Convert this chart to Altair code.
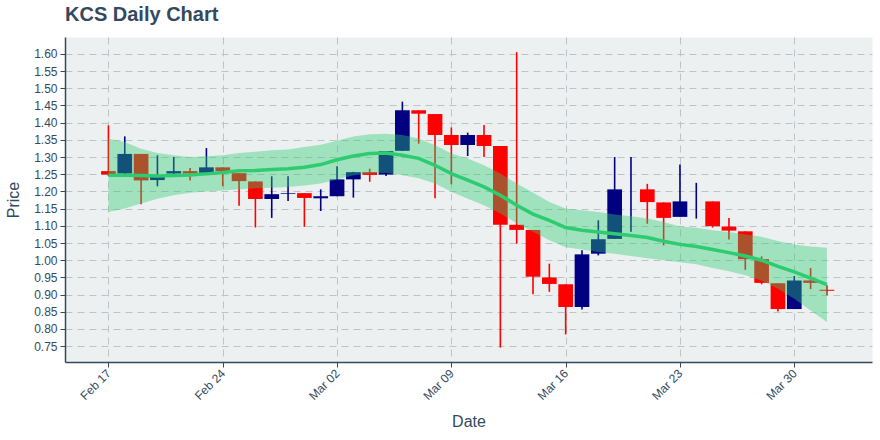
import altair as alt
import pandas as pd

dates = pd.date_range("2020-02-17", periods=45, freq="D").strftime("%Y-%m-%dT00:00:00Z").tolist()

opens = [1.259, 1.252, 1.309, 1.233, 1.252, 1.259, 1.254, 1.270, 1.253, 1.229,
         1.178, 1.193, 1.195, 1.180, 1.186, 1.235, 1.256, 1.249, 1.318, 1.436,
         1.425, 1.364, 1.335, 1.364, 1.332, 1.103, 1.088, 0.950, 0.930, 0.864,
         1.019, 1.062, 1.190, 1.206, 1.168, 1.126, 1.170, 1.171, 1.098, 1.084,
         1.003, 0.933, 0.858, 0.941, 0.914]
highs = [1.392, 1.360, 1.309, 1.305, 1.300, 1.268, 1.326, 1.270, 1.253, 1.229,
         1.244, 1.244, 1.195, 1.206, 1.273, 1.257, 1.266, 1.317, 1.461, 1.436,
         1.425, 1.386, 1.371, 1.393, 1.332, 1.605, 1.088, 0.990, 0.930, 1.029,
         1.116, 1.300, 1.300, 1.222, 1.168, 1.278, 1.225, 1.171, 1.123, 1.084,
         1.011, 0.933, 0.954, 0.977, 0.927]
lows = [1.245, 1.250, 1.163, 1.215, 1.249, 1.232, 1.252, 1.215, 1.158, 1.095,
        1.123, 1.172, 1.097, 1.143, 1.186, 1.182, 1.228, 1.245, 1.318, 1.339,
        1.180, 1.221, 1.303, 1.300, 0.746, 1.048, 0.901, 0.908, 0.784, 0.857,
        1.014, 1.062, 1.083, 1.106, 1.043, 1.126, 1.121, 1.095, 1.060, 0.972,
        0.930, 0.851, 0.858, 0.916, 0.898]
closes = [1.249, 1.309, 1.232, 1.242, 1.259, 1.252, 1.270, 1.259, 1.230, 1.178,
          1.192, 1.195, 1.181, 1.186, 1.235, 1.256, 1.248, 1.317, 1.436, 1.426,
          1.364, 1.335, 1.364, 1.332, 1.103, 1.088, 0.952, 0.931, 0.864, 1.017,
          1.061, 1.206, 1.190, 1.169, 1.123, 1.171, 1.170, 1.099, 1.086, 1.003,
          0.934, 0.858, 0.941, 0.934, 0.911]

mean = [1.247, 1.247, 1.246, 1.245, 1.246, 1.248, 1.251, 1.255, 1.260, 1.261,
        1.264, 1.266, 1.270, 1.278, 1.292, 1.303, 1.310, 1.312, 1.305, 1.296,
        1.276, 1.252, 1.233, 1.213, 1.189, 1.160, 1.134, 1.116, 1.095, 1.087,
        1.082, 1.077, 1.072, 1.066, 1.055, 1.046, 1.040, 1.031, 1.022, 1.012,
        1.000, 0.982, 0.966, 0.948, 0.929]
upper = [1.353, 1.344, 1.324, 1.312, 1.305, 1.300, 1.302, 1.305, 1.312, 1.315,
         1.320, 1.322, 1.329, 1.336, 1.347, 1.360, 1.366, 1.368, 1.364, 1.354,
         1.334, 1.310, 1.296, 1.276, 1.252, 1.223, 1.197, 1.169, 1.150, 1.145,
         1.140, 1.133, 1.128, 1.121, 1.111, 1.098, 1.094, 1.087, 1.082, 1.075,
         1.068, 1.056, 1.046, 1.040, 1.036]
lower = [1.140, 1.150, 1.165, 1.179, 1.189, 1.196, 1.200, 1.203, 1.206, 1.209,
         1.211, 1.213, 1.217, 1.223, 1.235, 1.247, 1.252, 1.254, 1.247, 1.238,
         1.223, 1.199, 1.179, 1.160, 1.136, 1.107, 1.083, 1.058, 1.038, 1.031,
         1.024, 1.019, 1.012, 1.006, 1.000, 0.994, 0.988, 0.977, 0.968, 0.956,
         0.941, 0.917, 0.888, 0.854, 0.820]

tick_dates = [(2, 17), (2, 24), (3, 2), (3, 9), (3, 16), (3, 23), (3, 30)]
y_ticks = [0.75, 0.80, 0.85, 0.90, 0.95, 1.00, 1.05, 1.10, 1.15, 1.20,
           1.25, 1.30, 1.35, 1.40, 1.45, 1.50, 1.55, 1.60]

df = pd.DataFrame({"date": dates, "open": opens, "high": highs, "low": lows,
                   "close": closes, "mean": mean, "upper": upper, "lower": lower})
df["dir"] = ["up" if c >= o else "down" for o, c in zip(opens, closes)]

TXT = "#34495e"
FONT = "Liberation Sans"

xscale = alt.Scale(type="utc", padding=0,
                   domain=[alt.DateTime(year=2020, month=2, date=14, hours=8, minutes=10, utc=True),
                           alt.DateTime(year=2020, month=4, date=3, hours=18, minutes=14, utc=True)])
xaxis = alt.Axis(values=[alt.DateTime(year=2020, month=m, date=d, utc=True) for m, d in tick_dates],
                 format="%b %d", labelAngle=-45, labelAlign="right", labelBaseline="middle",
                 labelFontSize=12, labelColor=TXT, labelFont=FONT, labelPadding=4,
                 labelOverlap=False,
                 tickColor=TXT, tickSize=5, domainColor=TXT, domainWidth=1.5,
                 gridColor="#bdc3c7", gridDash=[7, 5], gridWidth=1,
                 title="Date", titleFontSize=16, titleFont=FONT, titleFontWeight="normal",
                 titleColor=TXT, titlePadding=12)
yscale = alt.Scale(domain=[0.704, 1.649], nice=False, zero=False)
yaxis = alt.Axis(values=y_ticks, format=".2f", labelFontSize=12, labelColor=TXT, labelFont=FONT,
                 labelPadding=3, labelOverlap=False, labelFlush=False, tickCount=18,
                 tickColor=TXT, tickSize=5, domainColor=TXT, domainWidth=1.5,
                 gridColor="#bdc3c7", gridDash=[7, 5], gridWidth=1,
                 title="Price", titleFontSize=16, titleFont=FONT, titleFontWeight="normal",
                 titleColor=TXT, titlePadding=12)


def Y(field):
    return alt.Y(field, scale=yscale, axis=yaxis, title="Price")


color = alt.Color("dir:N", scale=alt.Scale(domain=["up", "down"], range=["#000080", "#ff0000"]),
                  legend=None)

base = alt.Chart(df).encode(x=alt.X("date:T", scale=xscale, axis=xaxis, title="Date"))

wicks = base.mark_rule(strokeWidth=1.6).encode(y=Y("low:Q"), y2="high:Q", color=color)
bodies = base.mark_bar(size=14.7).encode(y=Y("open:Q"), y2="close:Q", color=color)
band = base.mark_area(color="#2ecc71", opacity=0.4).encode(y=Y("lower:Q"), y2="upper:Q")
line = base.mark_line(color="#2ecc71", strokeWidth=3.5).encode(y=Y("mean:Q"))

chart = alt.layer(wicks, bodies, band, line).properties(
    width=807, height=325,
    autosize=alt.AutoSizeParams(type="none"),
    padding={"left": 65, "top": 37, "right": 8, "bottom": 78},
    title=alt.TitleParams("KCS Daily Chart", anchor="start", frame="group", fontSize=20,
                          font=FONT, fontWeight="bold", color=TXT, offset=12),
    background="white",
).configure_view(fill="#ecf0f1", stroke="transparent")

chart.save("out.html", embed_options={"renderer": "svg", "actions": False})
